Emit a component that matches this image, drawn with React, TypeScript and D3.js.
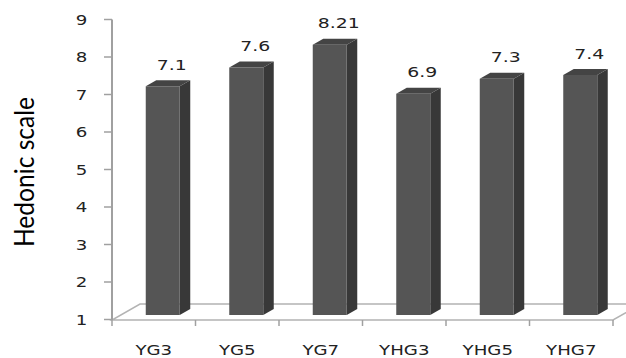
import React from "react";
import * as d3 from "d3";

const categories = ["YG3", "YG5", "YG7", "YHG3", "YHG5", "YHG7"];
const values = [7.1, 7.6, 8.21, 6.9, 7.3, 7.4];
const valueLabels = ["7.1", "7.6", "8.21", "6.9", "7.3", "7.4"];
const yTicks = [1, 2, 3, 4, 5, 6, 7, 8, 9];
const yTitle = "Hedonic scale";

const W = 626;
const H = 358;
const FLOOR_DX = 28;
const FLOOR_DY = -16;
const BAR_FRONT_DX = 9;
const BAR_FRONT_DY = -4.5;
const BAR_DEPTH_DX = 10.5;
const BAR_DEPTH_DY = -6;
const BAR_HALF = 17;
const FONT = "'DejaVu Sans', Verdana, sans-serif";
const SX = 1.3;

export default function App() {
  const x = d3.scaleBand<string>().domain(categories).range([112, 613]).padding(0);
  const y = d3.scaleLinear().domain([1, 9]).range([319.5, 19.5]);
  const base = y(1);
  const x0 = x.range()[0];
  const x1 = x.range()[1];
  const floorY = base + 0.5;
  const boundaries = categories.map((c) => x(c) as number).concat([x1]);

  return (
    <svg
      width={W}
      height={H}
      style={{ position: "absolute", left: 0, top: 0, background: "#fff", overflow: "hidden" }}
    >
      {/* floor */}
      <polygon
        points={`${x0},${floorY} ${x1},${floorY} ${x1 + FLOOR_DX},${floorY + FLOOR_DY} ${x0 + FLOOR_DX},${floorY + FLOOR_DY}`}
        fill="none"
        stroke="#b3b3b3"
        strokeWidth={1.5}
      />
      {/* y axis */}
      <line x1={x0} x2={x0} y1={y(9)} y2={floorY} stroke="#a0a0a0" strokeWidth={2} />
      {yTicks.map((t) => (
        <g key={t}>
          <line x1={x0 - 8} x2={x0} y1={y(t)} y2={y(t)} stroke="#a0a0a0" strokeWidth={1.5} />
          <g transform={`translate(81.5,${y(t)}) scale(${SX},1)`}>
            <text textAnchor="middle" dy="0.36em" fontFamily={FONT} fontSize={14} fill="#222">
              {t}
            </text>
          </g>
        </g>
      ))}
      {/* x ticks */}
      {boundaries.map((b, i) => (
        <line key={i} x1={b} x2={b} y1={floorY} y2={floorY + 6} stroke="#a0a0a0" strokeWidth={1.5} />
      ))}
      {/* bars */}
      {categories.map((c, i) => {
        const cx = (x(c) as number) + x.bandwidth() / 2 + BAR_FRONT_DX;
        const xl = cx - BAR_HALF;
        const xr = cx + BAR_HALF;
        const top = y(values[i]) + BAR_FRONT_DY;
        const bot = base + BAR_FRONT_DY;
        const ddx = BAR_DEPTH_DX;
        const ddy = BAR_DEPTH_DY;
        return (
          <g key={c}>
            <polygon
              points={`${xr},${top} ${xr + ddx},${top + ddy} ${xr + ddx},${bot + ddy} ${xr},${bot}`}
              fill="#383838"
            />
            <polygon
              points={`${xl},${top} ${xl + ddx},${top + ddy} ${xr + ddx},${top + ddy} ${xr},${top}`}
              fill="#444444"
            />
            <rect x={xl} y={top} width={xr - xl} height={bot - top} fill="#555555" />
            <g transform={`translate(${cx + 9},${top - 21.5}) scale(${SX},1)`}>
              <text textAnchor="middle" dy="0.36em" fontFamily={FONT} fontSize={14.5} fill="#222">
                {valueLabels[i]}
              </text>
            </g>
          </g>
        );
      })}
      {/* category labels */}
      {categories.map((c) => (
        <g key={c} transform={`translate(${(x(c) as number) + x.bandwidth() / 2},350) scale(${SX},1)`}>
          <text textAnchor="middle" dy="0.36em" fontFamily={FONT} fontSize={14} fill="#222">
            {c}
          </text>
        </g>
      ))}
      {/* y title */}
      <text
        transform={`translate(33.5,172) rotate(-90)`}
        textAnchor="middle"
        fontFamily="Lato, 'Open Sans', sans-serif"
        fontSize={27}
        textLength={150}
        lengthAdjust="spacingAndGlyphs"
        fill="#000"
      >
        {yTitle}
      </text>
    </svg>
  );
}
